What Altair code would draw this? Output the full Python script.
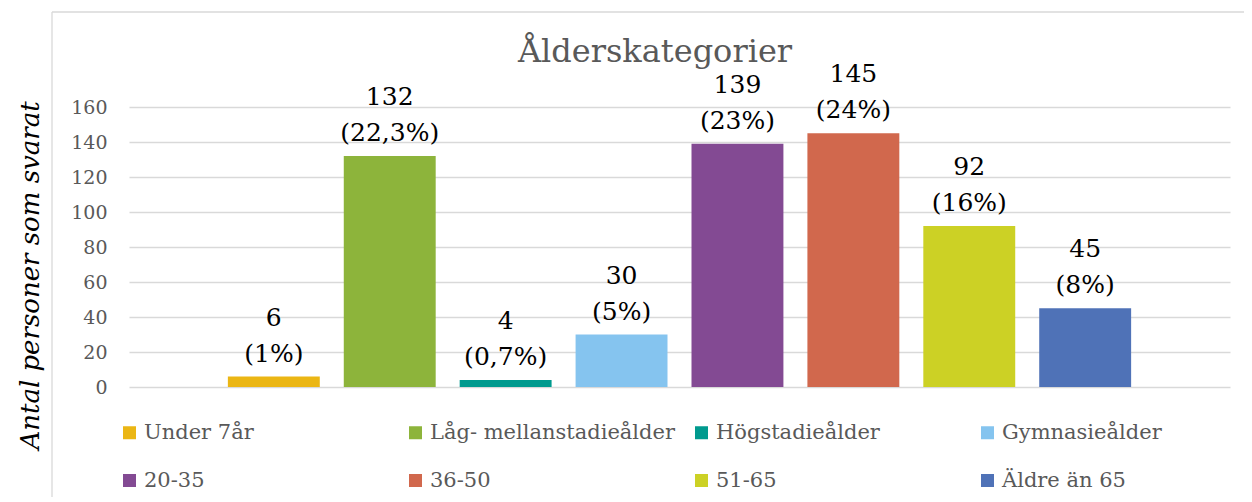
import altair as alt
import pandas as pd

categories = ["Under 7år", "Låg- mellanstadieålder", "Högstadieålder", "Gymnasieålder",
              "20-35", "36-50", "51-65", "Äldre än 65"]
counts = [6, 132, 4, 30, 139, 145, 92, 45]
percent_labels = ["(1%)", "(22,3%)", "(0,7%)", "(5%)", "(23%)", "(24%)", "(16%)", "(8%)"]
colors = ["#EBB614", "#8DB43B", "#009A8E", "#85C4EF", "#834A93", "#D1684D", "#CCD125", "#4F72B7"]
y_ticks = [0, 20, 40, 60, 80, 100, 120, 140, 160]
chart_title = "Ålderskategorier"

FONT = "Georgia, DejaVu Serif, serif"

df = pd.DataFrame({
    "kategori": categories,
    "antal": counts,
    "etikett": [f"{c}\n{p}" for c, p in zip(counts, percent_labels)],
})

x_enc = alt.X("kategori:N", sort=categories, axis=None,
              scale=alt.Scale(paddingInner=0.207, paddingOuter=0.853))
y_axis = alt.Axis(values=y_ticks, title="Antal personer som svarat",
                  domain=False, ticks=False, labelPadding=22, labelOverlap=False,
                  labelFont=FONT, labelFontSize=19, labelColor="#595959",
                  gridColor="#D9D9D9", gridWidth=1.3,
                  titleFont=FONT, titleFontSize=26, titleFontStyle="italic",
                  titleFontWeight="normal", titleColor="#000000",
                  titleAngle=270, titleX=-99, titleY=168,
                  titleAlign="center", titleBaseline="middle")
y_enc = alt.Y("antal:Q", scale=alt.Scale(domain=[0, 160], nice=False), axis=y_axis)

bars = alt.Chart(df).mark_bar().encode(
    x=x_enc,
    y=y_enc,
    color=alt.Color("kategori:N", sort=categories,
                    scale=alt.Scale(domain=categories, range=colors),
                    legend=alt.Legend(title=None, orient="none", legendX=-10, legendY=315,
                                      columns=4, direction="horizontal", gridAlign="all",
                                      columnPadding=16, rowPadding=26, padding=0,
                                      symbolType="square", symbolSize=169,
                                      symbolStrokeWidth=0, labelOffset=4,
                                      labelFont=FONT, labelFontSize=21,
                                      labelColor="#595959", labelLimit=400)),
)

texts = alt.Chart(df).mark_text(baseline="bottom", dy=-46, lineBreak="\n",
                                lineHeight=36, fontSize=25, font=FONT,
                                color="#000000").encode(
    x=x_enc,
    y=y_enc,
    text="etikett:N",
)

frame_df = pd.DataFrame({"t": [chart_title]})
left_border = alt.Chart(frame_df).mark_rule(color="#D9D9D9", strokeWidth=1.3).encode(
    x=alt.value(-77), y=alt.value(-95), y2=alt.value(420))
top_border = alt.Chart(frame_df).mark_rule(color="#D9D9D9", strokeWidth=1.3).encode(
    x=alt.value(-77), x2=alt.value(1140), y=alt.value(-95))
title_mark = alt.Chart(frame_df).mark_text(font=FONT, fontSize=32, color="#595959",
                                           align="center", baseline="alphabetic").encode(
    x=alt.value(526), y=alt.value(-45), text="t:N")

chart = alt.layer(left_border, top_border, title_mark, bars, texts).properties(
    width=1101, height=280,
    padding={"left": 121, "top": 99, "right": 14, "bottom": 110},
    autosize="none",
).configure_view(stroke=None)

chart.save("out.html", embed_options={"renderer": "svg", "actions": False})
